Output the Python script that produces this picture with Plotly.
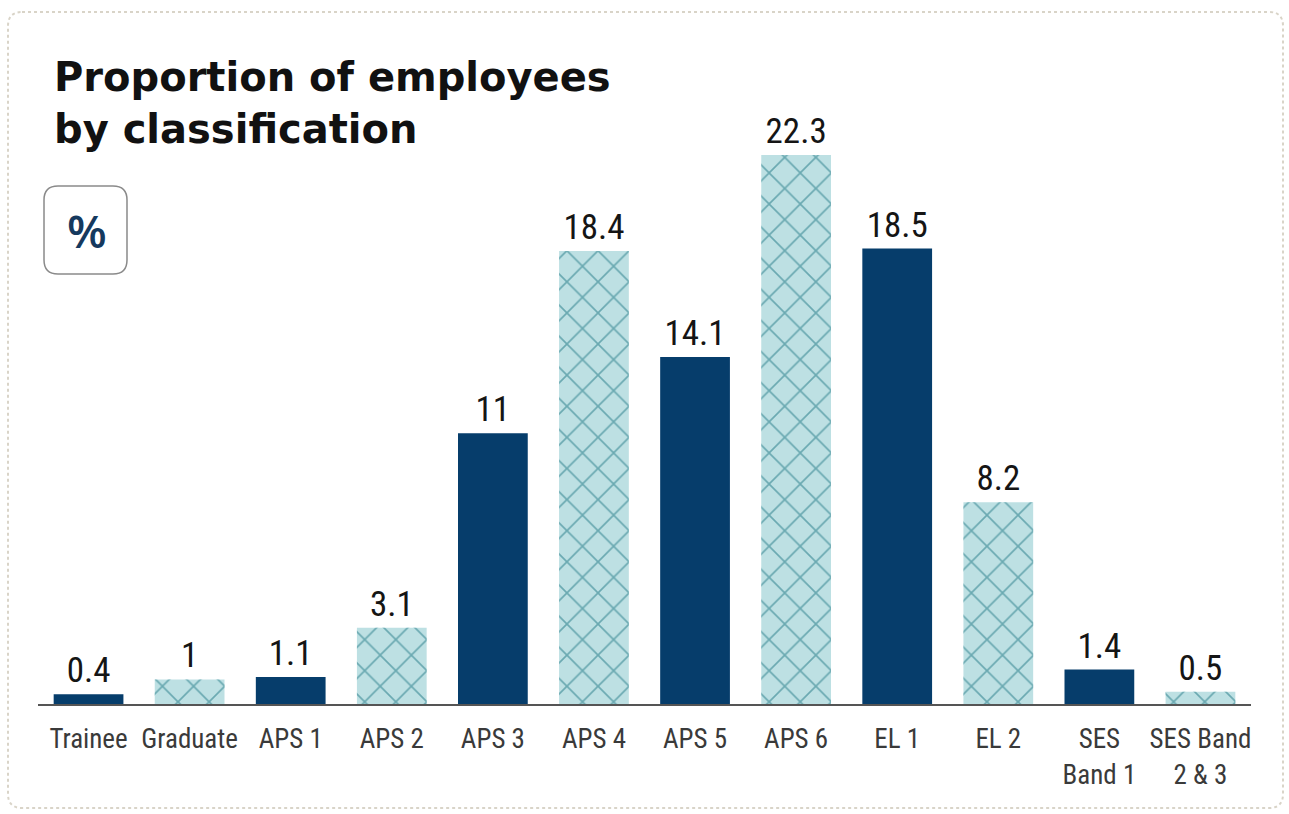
import plotly.graph_objects as go

categories = ["Trainee", "Graduate", "APS 1", "APS 2", "APS 3", "APS 4", "APS 5",
              "APS 6", "EL 1", "EL 2", "SES<br>Band 1", "SES Band<br>2 & 3"]
values = [0.4, 1, 1.1, 3.1, 11, 18.4, 14.1, 22.3, 18.5, 8.2, 1.4, 0.5]
value_labels = ["0.4", "1", "1.1", "3.1", "11", "18.4", "14.1", "22.3", "18.5", "8.2", "1.4", "0.5"]

NAVY = "#063d6b"
LIGHT = "#bde0e3"
TEAL = "#6aa9b1"
patterned = [i % 2 == 1 for i in range(len(values))]
COND = "Liberation Sans Narrow, Roboto Condensed, Roboto"

fig = go.Figure()
# base fill for every bar (navy solid or light-blue background)
fig.add_trace(go.Bar(
    x=categories, y=values,
    text=value_labels, textposition="outside",
    textfont=dict(family=COND, size=35, color="#151515"),
    cliponaxis=False,
    marker=dict(color=[LIGHT if p else NAVY for p in patterned], line=dict(width=0)),
))
# teal scale-like pattern over the light bars
fig.add_trace(go.Bar(
    x=categories, y=[v if p else None for v, p in zip(values, patterned)],
    marker=dict(
        color=TEAL, line=dict(width=0),
        pattern=dict(shape="x", size=22, solidity=0.15, fillmode="replace"),
    ),
    hoverinfo="skip",
))

W, H = 1289, 814
pl, pr, pt, pb = 38, 38, 64, 110
pw, ph = W - pl - pr, H - pt - pb

fig.update_layout(
    width=W, height=H,
    margin=dict(l=pl, r=pr, t=pt, b=pb),
    paper_bgcolor="white", plot_bgcolor="white",
    barmode="overlay", bargap=0.31, showlegend=False,
    xaxis=dict(showline=True, linecolor="#555555", linewidth=2, ticks="",
               ticklabelstandoff=10,
               tickfont=dict(family=COND, size=27, color="#3a3a3a"),
               showgrid=False, zeroline=False),
    yaxis=dict(range=[0, 26], visible=False, showgrid=False, zeroline=False),
)


def px_to_paper(x, y):
    return ((x - pl) / pw, (H - pb - y) / ph)


def rounded_rect(x0, y0, x1, y1, r):
    def P(x, y):
        a, b = px_to_paper(x, y)
        return f"{a:.5f},{b:.5f}"
    return (f"M {P(x0 + r, y0)} L {P(x1 - r, y0)} Q {P(x1, y0)} {P(x1, y0 + r)} "
            f"L {P(x1, y1 - r)} Q {P(x1, y1)} {P(x1 - r, y1)} "
            f"L {P(x0 + r, y1)} Q {P(x0, y1)} {P(x0, y1 - r)} "
            f"L {P(x0, y0 + r)} Q {P(x0, y0)} {P(x0 + r, y0)} Z")


fig.add_shape(type="path", xref="paper", yref="paper",
              path=rounded_rect(8, 12, 1283, 808, 14),
              line=dict(color="#d9d4c8", width=2, dash="dot"))
fig.add_shape(type="path", xref="paper", yref="paper",
              path=rounded_rect(44, 186, 127, 274, 14),
              line=dict(color="#8a8a8a", width=1.5))

cx, cy = px_to_paper(87, 230)
fig.add_annotation(x=cx, y=cy, xref="paper", yref="paper", text="%", showarrow=False,
                   font=dict(family="Open Sans, Noto Sans", size=46, color="#15395e", weight=600),
                   xanchor="center", yanchor="middle")

tx, ty = px_to_paper(52, 52)
fig.add_annotation(x=tx, y=ty, xref="paper", yref="paper",
                   text="<b>Proportion of employees<br>by classification</b>",
                   showarrow=False, align="left", xanchor="left", yanchor="top",
                   font=dict(family="DejaVu Sans, Open Sans", size=40, color="#111111"))

fig.write_html("out.html")
